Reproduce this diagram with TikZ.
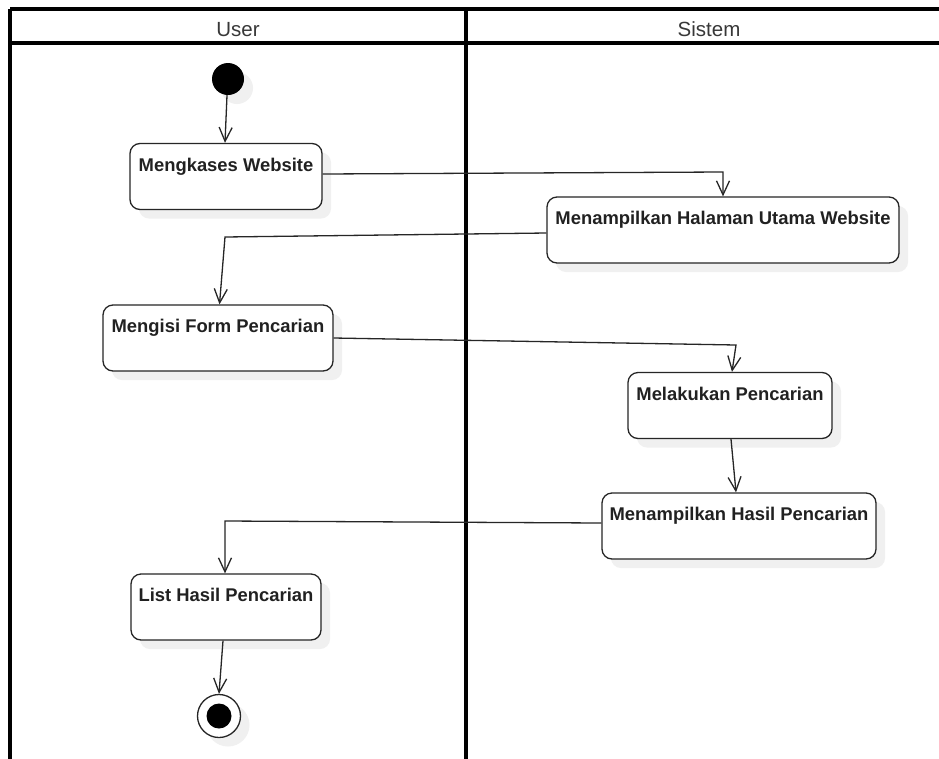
\documentclass[tikz,border=0pt]{standalone}
\usepackage{fontspec}
\setmainfont{Liberation Sans}
\usetikzlibrary{arrows.meta,shadows}
\begin{document}
\begin{tikzpicture}[x=1pt,y=-1pt,
  shade/.style={drop shadow={shadow xshift=9pt,shadow yshift=-9pt,fill=black!6,opacity=1}},
  box/.style={draw=black!85, line width=1.3pt, rounded corners=10pt, fill=white,
    inner sep=0pt, text height=27.5pt, text depth=38.5pt,
    font=\fontsize{18.4}{20}\selectfont\bfseries, text=black!87, shade},
  flow/.style={line width=1.3pt, draw=black!85, -{Straight Barb[length=14pt,width=13pt]}},
  lane/.style={line width=3.2pt, draw=black},
  lanetitle/.style={font=\fontsize{20.5}{24}\selectfont, text=black!78, anchor=base}
]
\useasboundingbox (0,0) rectangle (939,758);
\clip (0,0) rectangle (939,758);
\fill[white] (0,0) rectangle (939,758);

% swimlanes
\draw[lane] (10,9) -- (950,9);
\draw[lane] (10,43) -- (950,43);
\draw[lane] (10,9) -- (10,770);
\draw[lane] (466,9) -- (466,770);
\node[lanetitle] (hu) at (238,36) {User};
\node[lanetitle] (hs) at (709,36) {Sistem};

% start / end
\node[circle, fill=black, minimum size=32pt, inner sep=0pt, shade] (s) at (228,79) {};
\node[circle, draw=black!85, line width=1.3pt, fill=white, minimum size=43pt, inner sep=0pt, shade,
  path picture={\fill[black] (path picture bounding box.center) circle[radius=12.5pt];}] (t) at (219,716) {};

% activities
\node[box, minimum width=192pt] (a) at (226,176.5) {Mengkases Website};
\node[box, minimum width=352pt] (b) at (723,230) {Menampilkan Halaman Utama Website};
\node[box, minimum width=230pt] (c) at (218,338) {Mengisi Form Pencarian};
\node[box, minimum width=204pt] (d) at (730,405.5) {Melakukan Pencarian};
\node[box, minimum width=274pt] (e) at (739,526) {Menampilkan Hasil Pencarian};
\node[box, minimum width=190pt] (f) at (226,607) {List Hasil Pencarian};

% bend points
\coordinate (ab) at (723,172);
\coordinate (bc) at (225,237);
\coordinate (cd) at (736,345);
\coordinate (ef) at (225,521);

% flows
\draw[flow] ([xshift=-1pt]s.south) -- ([xshift=-1pt]a.north);
\draw[flow] ([yshift=2.5pt]a.east) -- (ab) -- (b.north);
\draw[flow] ([yshift=-3pt]b.west) -- (bc) -- ([xshift=1.5pt]c.north);
\draw[flow] (c.east) -- (cd) -- ([xshift=2pt]d.north);
\draw[flow] ([xshift=1pt]d.south) -- ([xshift=-3pt]e.north);
\draw[flow] ([yshift=3pt]e.west) -- (ef) -- ([xshift=-1pt]f.north);
\draw[flow] ([xshift=-3pt]f.south) -- (t.north);
\end{tikzpicture}
\end{document}
